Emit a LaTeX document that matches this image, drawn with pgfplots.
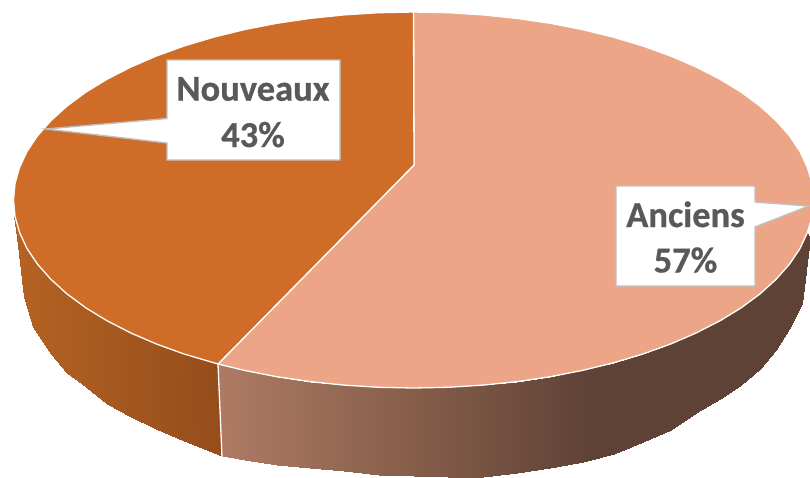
\documentclass[border=0pt]{standalone}
\usepackage{fontspec}
\setmainfont{Carlito}
\newfontface\labfont[FakeBold=0.6]{Carlito Bold}
\usepackage{pgfplots}
\pgfplotsset{compat=1.18}
\definecolor{topO}{RGB}{206,108,40}
\definecolor{topS}{RGB}{236,165,134}
\definecolor{boxB}{RGB}{191,191,191}
\definecolor{txt}{RGB}{89,89,89}
\begin{document}
\begin{tikzpicture}
\path[use as bounding box] (0,0) rectangle (810pt,477pt);
\begin{axis}[
  at={(0,0)},anchor=south west,
  width=810pt,height=477pt,scale only axis,hide axis,
  xmin=0,xmax=810,ymin=0,ymax=477,y dir=reverse,clip=true,
  point meta min=0,point meta max=2000,
  colormap={side}{
    rgb255(0pt)=(182,99,35)
    rgb255(30pt)=(178,97,34)
    rgb255(222pt)=(149,77,27)
    rgb255(1000pt)=(200,150,130)
    rgb255(1222pt)=(174,122,100)
    rgb255(1405pt)=(135,95,75)
    rgb255(1590pt)=(95,66,54)
    rgb255(2000pt)=(95,66,54)
  },
]
% side of the orange slice
\addplot[surf,shader=interp,mesh/cols=2,mesh/rows=13,point meta=explicit] table[x=x,y=y,meta=c] {
x y c
14 205 14
14.5 216 14
15 216.4 15
15 223 15
19.6 232.6 17
17 237 17
27.1 248.7 24
24 297 24
37.6 264.3 33
33 327 33
51 279.4 51
51 354 51
67.1 294 67
67 373 67
85.8 307.8 86
86 387 86
107.1 320.8 107
107 404 107
130.7 332.9 131
131 417 131
156.4 344 156
156 429 156
184.1 354 184
184 441 184
218 364 222
222 456 222
};
% side of the salmon slice
\addplot[surf,shader=interp,mesh/cols=2,mesh/rows=23,point meta=explicit] table[x=x,y=y,meta=c] {
x y c
218 364 1222
222 456 1222
244.5 370.4 1245
245 460 1245
276.7 376.7 1277
277 464.5 1277
310 381.6 1310
310 468 1310
344 385.1 1344
344 471 1344
378.6 387.3 1379
379 474.5 1379
413.5 388 1414
414 476 1414
448.4 387.3 1448
448 477 1448
483 385.1 1483
483 476.5 1483
517 381.6 1517
517 473 1517
550.3 376.7 1550
550 468 1550
582.5 370.4 1583
583 462 1583
613.5 362.8 1614
614 454 1614
642.9 354 1643
643 442 1643
670.6 344 1671
671 430 1671
696.3 332.9 1696
696 413 1696
719.9 320.8 1720
720 399 1720
741.2 307.8 1741
741 385 1741
759.9 294 1760
760 369 1760
776 279.4 1776
776 350 1776
789.4 264.3 1789
789 329 1789
799.9 248.7 1800
802 304 1800
807.4 232.6 1807
810 238 1807
};
% salmon top
\addplot[fill=topS,draw=white,line width=1.3pt,line join=round] coordinates {
(414,165)(413.5,12)(448.4,12.7)(483,14.9)(517,18.4)(550.3,23.3)(582.5,29.6)(613.5,37.2)(642.9,46)(670.6,56)(696.3,67.1)(719.9,79.2)(741.2,92.2)(759.9,106)(776,120.6)(789.4,135.7)(799.9,151.3)(807.4,167.4)(812,183.6)(813.5,200)
(812,216.4)(807.4,232.6)(799.9,248.7)(789.4,264.3)(776,279.4)(759.9,294)(741.2,307.8)(719.9,320.8)(696.3,332.9)(670.6,344)(642.9,354)(613.5,362.8)(582.5,370.4)(550.3,376.7)(517,381.6)(483,385.1)(448.4,387.3)(413.5,388)
(378.6,387.3)(344,385.1)(310,381.6)(276.7,376.7)(244.5,370.4)(218,364)
} --cycle;
% orange top
\addplot[fill=topO,draw=white,line width=1.3pt,line join=round] coordinates {
(414,165)(218,364)(184.1,354)(156.4,344)(130.7,332.9)(107.1,320.8)(85.8,307.8)(67.1,294)(51,279.4)(37.6,264.3)(27.1,248.7)(19.6,232.6)(15,216.4)(13.5,200)
(15,183.6)(19.6,167.4)(27.1,151.3)(37.6,135.7)(51,120.6)(67.1,106)(85.8,92.2)(107.1,79.2)(130.7,67.1)(156.4,56)(184.1,46)(213.5,37.2)(244.5,29.6)(276.7,23.3)(310,18.4)(344,14.9)(378.6,12.7)(413.5,12)
} --cycle;
% divider on the side
\addplot[draw=white,line width=1.3pt] coordinates {(218,364)(222,457)};
% callouts
\addplot[fill=white,draw=boxB,line width=1.4pt,line join=miter] coordinates {
(167,60)(340,60)(340,160)(167,160)(167,143)(46,129)(167,118.5)
} --cycle;
\addplot[fill=white,draw=boxB,line width=1.4pt,line join=miter] coordinates {
(616,186)(755,186)(755,202)(809,206)(755,227)(755,286)(616,286)
} --cycle;
\node[anchor=base,inner sep=0pt,text=txt,font=\labfont\fontsize{36.5}{45}\selectfont] at (axis cs:253,100.7) {Nouveaux};
\node[anchor=base,inner sep=0pt,text=txt,font=\labfont\fontsize{36.5}{45}\selectfont] at (axis cs:253,147) {43\%};
\node[anchor=base,inner sep=0pt,text=txt,font=\labfont\fontsize{36.5}{45}\selectfont] at (axis cs:685.5,227) {Anciens};
\node[anchor=base,inner sep=0pt,text=txt,font=\labfont\fontsize{36.5}{45}\selectfont] at (axis cs:685.5,272.5) {57\%};
\end{axis}
\end{tikzpicture}
\end{document}
